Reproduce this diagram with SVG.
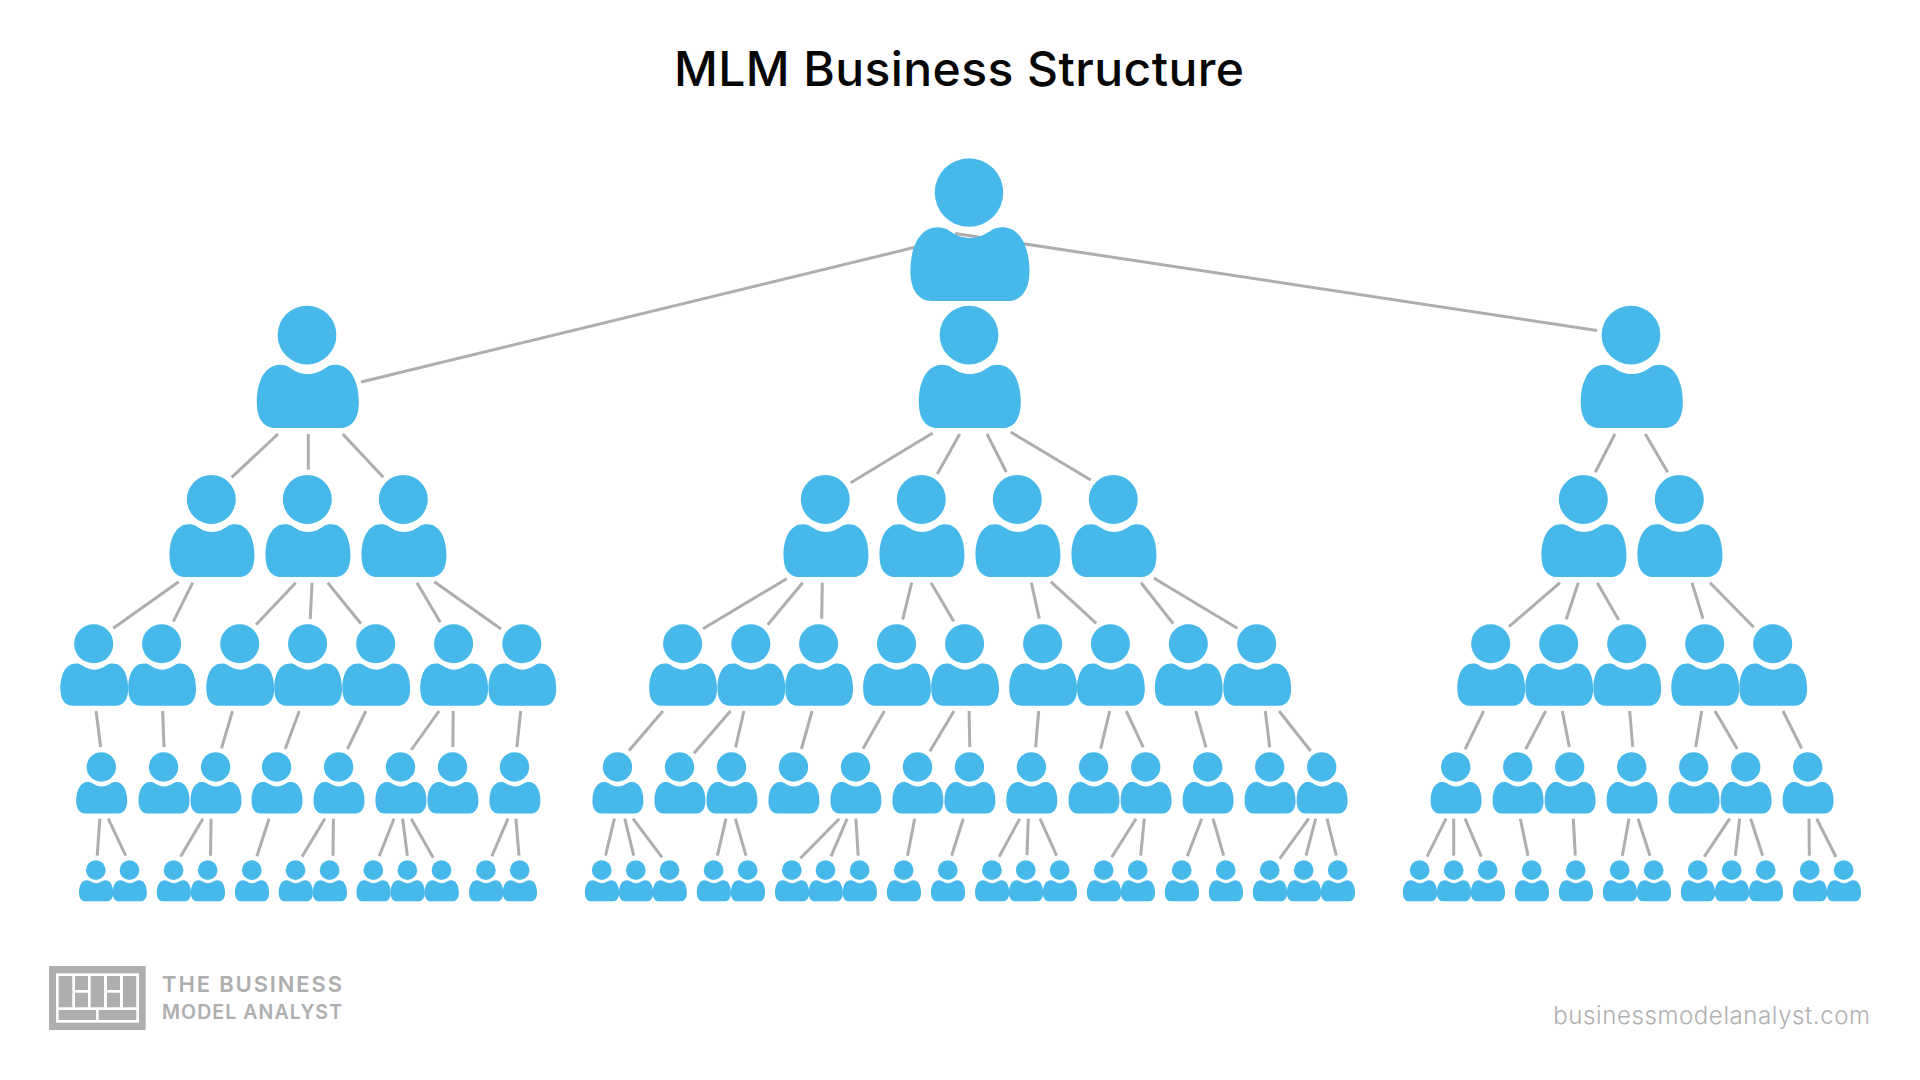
<svg xmlns="http://www.w3.org/2000/svg" width="1920" height="1080" viewBox="0 0 1920 1080">
<style>
.person{fill:#46b8ea}
#connectors line{stroke:#aeaeae;stroke-width:3;fill:none}
.title{font-family:"Inter","Liberation Sans",sans-serif;font-size:48px;font-weight:500;fill:#050505}
.logo{font-family:"Inter","Liberation Sans",sans-serif;fill:#aeaeae;font-weight:600}
.url{font-family:"Inter","Liberation Sans",sans-serif;font-size:24px;font-weight:300;fill:#b0b0b0}
.cell{fill:#aeaeae}
</style>
<defs>
<g id="person" class="person">
<circle cx="0" cy="28.8" r="28.8"/>
<path transform="translate(.8 0)" d="M0 67C-7 67-13 64-18 60.500C-21 58.600-24 58-27 58C-42 58-50 74-50 95C-50 111-43 120-32 120L32 120C43 120 50 111 50 95C50 74 42 58 27 58C24 58 21 58.600 18 60.500C13 64 7 67 0 67Z"/>
</g>
</defs>
<rect width="1920" height="1080" fill="#fff"/>
<text class="title" x="674" y="86" textLength="570" lengthAdjust="spacing">MLM Business Structure</text>
<g id="connectors">
<line x1="361" y1="382" x2="915" y2="247.3"/>
<line x1="955" y1="233.400" x2="1597" y2="330.500"/>
<line x1="278" y1="434" x2="231.7" y2="477.3"/>
<line x1="308.3" y1="434" x2="308.3" y2="469.7"/>
<line x1="342.7" y1="434" x2="383.3" y2="477.3"/>
<line x1="932.7" y1="433" x2="850.7" y2="482.7"/>
<line x1="959.7" y1="434" x2="937.3" y2="474"/>
<line x1="987" y1="434" x2="1006.3" y2="472"/>
<line x1="1010.7" y1="432" x2="1090.7" y2="480"/>
<line x1="1615" y1="434" x2="1595.3" y2="472.3"/>
<line x1="1645.3" y1="434" x2="1667.7" y2="472.3"/>
<line x1="178.7" y1="581.7" x2="113.3" y2="628.3"/>
<line x1="192.7" y1="582.7" x2="173.3" y2="621.7"/>
<line x1="295.7" y1="582.7" x2="256" y2="624.7"/>
<line x1="312" y1="582.7" x2="310.3" y2="619"/>
<line x1="327.7" y1="582.7" x2="361" y2="623.7"/>
<line x1="417" y1="582.7" x2="440.3" y2="622.3"/>
<line x1="434.3" y1="581.7" x2="501" y2="629"/>
<line x1="786.7" y1="578.7" x2="703" y2="628.7"/>
<line x1="802.7" y1="582.7" x2="767.7" y2="624.7"/>
<line x1="822.3" y1="582.7" x2="821.7" y2="618.7"/>
<line x1="911.7" y1="582.7" x2="902.7" y2="619.7"/>
<line x1="931" y1="582.7" x2="953.7" y2="621.3"/>
<line x1="1031.3" y1="582.7" x2="1039.3" y2="618.7"/>
<line x1="1050.7" y1="581.7" x2="1096.3" y2="623.3"/>
<line x1="1141" y1="582.7" x2="1173.3" y2="623.7"/>
<line x1="1153.7" y1="578" x2="1237.3" y2="628.3"/>
<line x1="1560" y1="582.7" x2="1509" y2="626.7"/>
<line x1="1578.3" y1="582.7" x2="1566.3" y2="619.3"/>
<line x1="1597.3" y1="582.7" x2="1618.7" y2="620"/>
<line x1="1692" y1="582.7" x2="1703" y2="618.7"/>
<line x1="1710" y1="582.7" x2="1753.7" y2="627.3"/>
<line x1="96.1" y1="711" x2="100.6" y2="747"/>
<line x1="162.6" y1="711" x2="164" y2="747"/>
<line x1="232.5" y1="711" x2="221.5" y2="748.3"/>
<line x1="299.3" y1="711" x2="285.2" y2="749"/>
<line x1="365.8" y1="711" x2="347.5" y2="749"/>
<line x1="439.1" y1="711" x2="411.2" y2="750"/>
<line x1="453.2" y1="711" x2="452.9" y2="747"/>
<line x1="520.7" y1="711" x2="516.9" y2="747"/>
<line x1="663" y1="711" x2="628.9" y2="750.7"/>
<line x1="730.5" y1="711" x2="694" y2="753.3"/>
<line x1="743.9" y1="711" x2="735.6" y2="747.3"/>
<line x1="812.1" y1="711" x2="801.4" y2="749"/>
<line x1="884.4" y1="711" x2="863" y2="748.7"/>
<line x1="954" y1="711" x2="929.9" y2="751.3"/>
<line x1="969.1" y1="711" x2="969.8" y2="747"/>
<line x1="1038.7" y1="711" x2="1035.6" y2="747.3"/>
<line x1="1109.7" y1="711" x2="1100.7" y2="748.7"/>
<line x1="1126.3" y1="711" x2="1143.3" y2="747.3"/>
<line x1="1195.7" y1="711" x2="1206" y2="747.3"/>
<line x1="1265.3" y1="711" x2="1269.7" y2="747.3"/>
<line x1="1279" y1="711" x2="1310.7" y2="751"/>
<line x1="1483.7" y1="711" x2="1465" y2="749.3"/>
<line x1="1545.7" y1="711" x2="1525.7" y2="749"/>
<line x1="1562.3" y1="711" x2="1569.3" y2="747"/>
<line x1="1629.7" y1="711" x2="1632.7" y2="747"/>
<line x1="1701.7" y1="711" x2="1695.7" y2="747"/>
<line x1="1715" y1="711" x2="1737.3" y2="749"/>
<line x1="1783" y1="711" x2="1801.7" y2="748.3"/>
<line x1="99.9" y1="818.7" x2="97.2" y2="855.7"/>
<line x1="108.2" y1="818.7" x2="125.7" y2="855.7"/>
<line x1="202.9" y1="818.7" x2="180.5" y2="856.7"/>
<line x1="211.1" y1="818.7" x2="210.5" y2="855.7"/>
<line x1="269" y1="818.7" x2="256.9" y2="856.3"/>
<line x1="324.8" y1="818.7" x2="302" y2="856.7"/>
<line x1="333.4" y1="818.7" x2="333" y2="855.7"/>
<line x1="394" y1="818.7" x2="379.2" y2="856.3"/>
<line x1="402.6" y1="818.7" x2="407.4" y2="855.7"/>
<line x1="411.2" y1="818.7" x2="433.2" y2="857.7"/>
<line x1="508" y1="818.7" x2="491.8" y2="856.3"/>
<line x1="515.9" y1="818.7" x2="519" y2="855.7"/>
<line x1="614.4" y1="818.7" x2="605.5" y2="855.7"/>
<line x1="624.8" y1="818.7" x2="633.7" y2="855.7"/>
<line x1="633" y1="818.7" x2="662" y2="857.3"/>
<line x1="726" y1="818.7" x2="717.4" y2="855.7"/>
<line x1="735.3" y1="818.7" x2="746" y2="855.7"/>
<line x1="839.3" y1="818.7" x2="800.4" y2="858.3"/>
<line x1="847.2" y1="818.7" x2="831" y2="856.3"/>
<line x1="855.8" y1="818.7" x2="858.2" y2="855.7"/>
<line x1="914.7" y1="818.7" x2="907.5" y2="855.7"/>
<line x1="963.3" y1="818.7" x2="951.6" y2="855.7"/>
<line x1="1019.7" y1="818.7" x2="999.1" y2="856.7"/>
<line x1="1028.3" y1="818.7" x2="1027" y2="855.3"/>
<line x1="1040" y1="818.7" x2="1056.6" y2="855.7"/>
<line x1="1136" y1="818.7" x2="1111.7" y2="857.3"/>
<line x1="1144.3" y1="818.7" x2="1140.7" y2="855.7"/>
<line x1="1201.7" y1="818.7" x2="1187.3" y2="856.3"/>
<line x1="1213" y1="818.7" x2="1223.7" y2="855.7"/>
<line x1="1308.7" y1="818.7" x2="1279.7" y2="858.7"/>
<line x1="1315.7" y1="818.7" x2="1306" y2="855.7"/>
<line x1="1327" y1="818.7" x2="1336.3" y2="855.7"/>
<line x1="1446" y1="818.7" x2="1427" y2="856.7"/>
<line x1="1453.7" y1="818.7" x2="1453.7" y2="855.7"/>
<line x1="1465" y1="818.7" x2="1481.3" y2="856.7"/>
<line x1="1520.3" y1="818.7" x2="1528" y2="855.7"/>
<line x1="1573.3" y1="818.7" x2="1575.3" y2="855.7"/>
<line x1="1629" y1="818.7" x2="1622.3" y2="855.7"/>
<line x1="1638" y1="818.7" x2="1650" y2="855.7"/>
<line x1="1729.7" y1="818.7" x2="1704.3" y2="856.7"/>
<line x1="1739.7" y1="818.7" x2="1735.3" y2="855.7"/>
<line x1="1750.7" y1="818.7" x2="1762.7" y2="855.7"/>
<line x1="1809" y1="818.7" x2="1809.3" y2="855.7"/>
<line x1="1816.7" y1="818.7" x2="1836" y2="857"/>
</g>
<g id="n0-1" transform="translate(969 158.3) scale(1.19)"><use href="#person"/></g>
<g id="n1-1" transform="translate(307 305.7) scale(1.02)"><use href="#person"/></g>
<g id="n1-2" transform="translate(969 305.7) scale(1.02)"><use href="#person"/></g>
<g id="n1-3" transform="translate(1631 305.7) scale(1.02)"><use href="#person"/></g>
<g id="n2-1" transform="translate(211.3 475) scale(.85)"><use href="#person"/></g>
<g id="n2-2" transform="translate(307.3 475) scale(.85)"><use href="#person"/></g>
<g id="n2-3" transform="translate(403.3 475) scale(.85)"><use href="#person"/></g>
<g id="n2-4" transform="translate(825.3 475) scale(.85)"><use href="#person"/></g>
<g id="n2-5" transform="translate(921.3 475) scale(.85)"><use href="#person"/></g>
<g id="n2-6" transform="translate(1017.3 475) scale(.85)"><use href="#person"/></g>
<g id="n2-7" transform="translate(1113.3 475) scale(.85)"><use href="#person"/></g>
<g id="n2-8" transform="translate(1583.3 475) scale(.85)"><use href="#person"/></g>
<g id="n2-9" transform="translate(1679.3 475) scale(.85)"><use href="#person"/></g>
<g id="n3-1" transform="translate(93.7 624.3) scale(.678)"><use href="#person"/></g>
<g id="n3-2" transform="translate(161.6 624.3) scale(.678)"><use href="#person"/></g>
<g id="n3-3" transform="translate(239.7 624.3) scale(.678)"><use href="#person"/></g>
<g id="n3-4" transform="translate(307.6 624.3) scale(.678)"><use href="#person"/></g>
<g id="n3-5" transform="translate(375.7 624.3) scale(.678)"><use href="#person"/></g>
<g id="n3-6" transform="translate(453.6 624.3) scale(.678)"><use href="#person"/></g>
<g id="n3-7" transform="translate(521.8 624.3) scale(.678)"><use href="#person"/></g>
<g id="n3-8" transform="translate(682.6 624.3) scale(.678)"><use href="#person"/></g>
<g id="n3-9" transform="translate(750.8 624.3) scale(.678)"><use href="#person"/></g>
<g id="n3-10" transform="translate(818.6 624.3) scale(.678)"><use href="#person"/></g>
<g id="n3-11" transform="translate(896.5 624.3) scale(.678)"><use href="#person"/></g>
<g id="n3-12" transform="translate(964.6 624.3) scale(.678)"><use href="#person"/></g>
<g id="n3-13" transform="translate(1042.6 624.3) scale(.678)"><use href="#person"/></g>
<g id="n3-14" transform="translate(1110.4 624.3) scale(.678)"><use href="#person"/></g>
<g id="n3-15" transform="translate(1188.3 624.3) scale(.678)"><use href="#person"/></g>
<g id="n3-16" transform="translate(1256.7 624.3) scale(.678)"><use href="#person"/></g>
<g id="n3-17" transform="translate(1490.7 624.3) scale(.678)"><use href="#person"/></g>
<g id="n3-18" transform="translate(1558.7 624.3) scale(.678)"><use href="#person"/></g>
<g id="n3-19" transform="translate(1626.7 624.3) scale(.678)"><use href="#person"/></g>
<g id="n3-20" transform="translate(1704.7 624.3) scale(.678)"><use href="#person"/></g>
<g id="n3-21" transform="translate(1772.7 624.3) scale(.678)"><use href="#person"/></g>
<g id="n4-1" transform="translate(101.3 752.3) scale(.51)"><use href="#person"/></g>
<g id="n4-2" transform="translate(163.6 752.3) scale(.51)"><use href="#person"/></g>
<g id="n4-3" transform="translate(215.6 752.3) scale(.51)"><use href="#person"/></g>
<g id="n4-4" transform="translate(276.6 752.3) scale(.51)"><use href="#person"/></g>
<g id="n4-5" transform="translate(338.6 752.3) scale(.51)"><use href="#person"/></g>
<g id="n4-6" transform="translate(400.5 752.3) scale(.51)"><use href="#person"/></g>
<g id="n4-7" transform="translate(452.5 752.3) scale(.51)"><use href="#person"/></g>
<g id="n4-8" transform="translate(514.5 752.3) scale(.51)"><use href="#person"/></g>
<g id="n4-9" transform="translate(617.5 752.3) scale(.51)"><use href="#person"/></g>
<g id="n4-10" transform="translate(679.5 752.3) scale(.51)"><use href="#person"/></g>
<g id="n4-11" transform="translate(731.5 752.3) scale(.51)"><use href="#person"/></g>
<g id="n4-12" transform="translate(793.5 752.3) scale(.51)"><use href="#person"/></g>
<g id="n4-13" transform="translate(855.5 752.3) scale(.51)"><use href="#person"/></g>
<g id="n4-14" transform="translate(917.5 752.3) scale(.51)"><use href="#person"/></g>
<g id="n4-15" transform="translate(969.5 752.3) scale(.51)"><use href="#person"/></g>
<g id="n4-16" transform="translate(1031.4 752.3) scale(.51)"><use href="#person"/></g>
<g id="n4-17" transform="translate(1093.6 752.3) scale(.51)"><use href="#person"/></g>
<g id="n4-18" transform="translate(1145.7 752.3) scale(.51)"><use href="#person"/></g>
<g id="n4-19" transform="translate(1207.7 752.3) scale(.51)"><use href="#person"/></g>
<g id="n4-20" transform="translate(1269.7 752.3) scale(.51)"><use href="#person"/></g>
<g id="n4-21" transform="translate(1321.7 752.3) scale(.51)"><use href="#person"/></g>
<g id="n4-22" transform="translate(1455.7 752.3) scale(.51)"><use href="#person"/></g>
<g id="n4-23" transform="translate(1517.7 752.3) scale(.51)"><use href="#person"/></g>
<g id="n4-24" transform="translate(1569.7 752.3) scale(.51)"><use href="#person"/></g>
<g id="n4-25" transform="translate(1631.7 752.3) scale(.51)"><use href="#person"/></g>
<g id="n4-26" transform="translate(1693.7 752.3) scale(.51)"><use href="#person"/></g>
<g id="n4-27" transform="translate(1745.7 752.3) scale(.51)"><use href="#person"/></g>
<g id="n4-28" transform="translate(1807.7 752.3) scale(.51)"><use href="#person"/></g>
<g id="n5-1" transform="translate(95.8 860.3) scale(.342)"><use href="#person"/></g>
<g id="n5-2" transform="translate(129.5 860.3) scale(.342)"><use href="#person"/></g>
<g id="n5-3" transform="translate(173.6 860.3) scale(.342)"><use href="#person"/></g>
<g id="n5-4" transform="translate(207.7 860.3) scale(.342)"><use href="#person"/></g>
<g id="n5-5" transform="translate(251.8 860.3) scale(.342)"><use href="#person"/></g>
<g id="n5-6" transform="translate(295.5 860.3) scale(.342)"><use href="#person"/></g>
<g id="n5-7" transform="translate(329.6 860.3) scale(.342)"><use href="#person"/></g>
<g id="n5-8" transform="translate(373.3 860.3) scale(.342)"><use href="#person"/></g>
<g id="n5-9" transform="translate(407.4 860.3) scale(.342)"><use href="#person"/></g>
<g id="n5-10" transform="translate(441.5 860.3) scale(.342)"><use href="#person"/></g>
<g id="n5-11" transform="translate(485.9 860.3) scale(.342)"><use href="#person"/></g>
<g id="n5-12" transform="translate(519.7 860.3) scale(.342)"><use href="#person"/></g>
<g id="n5-13" transform="translate(601.7 860.3) scale(.342)"><use href="#person"/></g>
<g id="n5-14" transform="translate(635.8 860.3) scale(.342)"><use href="#person"/></g>
<g id="n5-15" transform="translate(669.5 860.3) scale(.342)"><use href="#person"/></g>
<g id="n5-16" transform="translate(713.6 860.3) scale(.342)"><use href="#person"/></g>
<g id="n5-17" transform="translate(747.7 860.3) scale(.342)"><use href="#person"/></g>
<g id="n5-18" transform="translate(791.8 860.3) scale(.342)"><use href="#person"/></g>
<g id="n5-19" transform="translate(825.5 860.3) scale(.342)"><use href="#person"/></g>
<g id="n5-20" transform="translate(859.6 860.3) scale(.342)"><use href="#person"/></g>
<g id="n5-21" transform="translate(903.7 860.3) scale(.342)"><use href="#person"/></g>
<g id="n5-22" transform="translate(947.8 860.3) scale(.342)"><use href="#person"/></g>
<g id="n5-23" transform="translate(991.9 860.3) scale(.342)"><use href="#person"/></g>
<g id="n5-24" transform="translate(1025.8 860.3) scale(.342)"><use href="#person"/></g>
<g id="n5-25" transform="translate(1059.7 860.3) scale(.342)"><use href="#person"/></g>
<g id="n5-26" transform="translate(1103.7 860.3) scale(.342)"><use href="#person"/></g>
<g id="n5-27" transform="translate(1137.7 860.3) scale(.342)"><use href="#person"/></g>
<g id="n5-28" transform="translate(1181.7 860.3) scale(.342)"><use href="#person"/></g>
<g id="n5-29" transform="translate(1225.7 860.3) scale(.342)"><use href="#person"/></g>
<g id="n5-30" transform="translate(1269.7 860.3) scale(.342)"><use href="#person"/></g>
<g id="n5-31" transform="translate(1303.7 860.3) scale(.342)"><use href="#person"/></g>
<g id="n5-32" transform="translate(1337.7 860.3) scale(.342)"><use href="#person"/></g>
<g id="n5-33" transform="translate(1419.7 860.3) scale(.342)"><use href="#person"/></g>
<g id="n5-34" transform="translate(1453.7 860.3) scale(.342)"><use href="#person"/></g>
<g id="n5-35" transform="translate(1487.7 860.3) scale(.342)"><use href="#person"/></g>
<g id="n5-36" transform="translate(1531.7 860.3) scale(.342)"><use href="#person"/></g>
<g id="n5-37" transform="translate(1575.7 860.3) scale(.342)"><use href="#person"/></g>
<g id="n5-38" transform="translate(1619.7 860.3) scale(.342)"><use href="#person"/></g>
<g id="n5-39" transform="translate(1653.7 860.3) scale(.342)"><use href="#person"/></g>
<g id="n5-40" transform="translate(1697.7 860.3) scale(.342)"><use href="#person"/></g>
<g id="n5-41" transform="translate(1731.7 860.3) scale(.342)"><use href="#person"/></g>
<g id="n5-42" transform="translate(1765.7 860.3) scale(.342)"><use href="#person"/></g>
<g id="n5-43" transform="translate(1809.7 860.3) scale(.342)"><use href="#person"/></g>
<g id="n5-44" transform="translate(1843.7 860.3) scale(.342)"><use href="#person"/></g>
<g id="logo">
<rect class="cell" x="49" y="966" width="96.7" height="64"/>
<rect x="56" y="973.3" width="83" height="49.4" fill="#fff"/>
<rect class="cell" x="58.7" y="976" width="13.6" height="31.3"/>
<rect class="cell" x="75" y="976" width="13" height="14"/>
<rect class="cell" x="75" y="992.7" width="13" height="14.6"/>
<rect class="cell" x="90.7" y="976" width="13.3" height="31.3"/>
<rect class="cell" x="107" y="976" width="13" height="14"/>
<rect class="cell" x="107" y="992.7" width="13" height="14.6"/>
<rect class="cell" x="123" y="976" width="13.3" height="31.3"/>
<rect class="cell" x="58.7" y="1010" width="37.3" height="10"/>
<rect class="cell" x="98.7" y="1010" width="37.6" height="10"/>
<text class="logo" x="162" y="992" font-size="22" textLength="180" lengthAdjust="spacing">THE BUSINESS</text>
<text class="logo" x="162" y="1018.500" font-size="19.500" textLength="180" lengthAdjust="spacing">MODEL ANALYST</text>
</g>
<text class="url" x="1553.3" y="1023.500" textLength="316.7" lengthAdjust="spacing">businessmodelanalyst.com</text>
</svg>
